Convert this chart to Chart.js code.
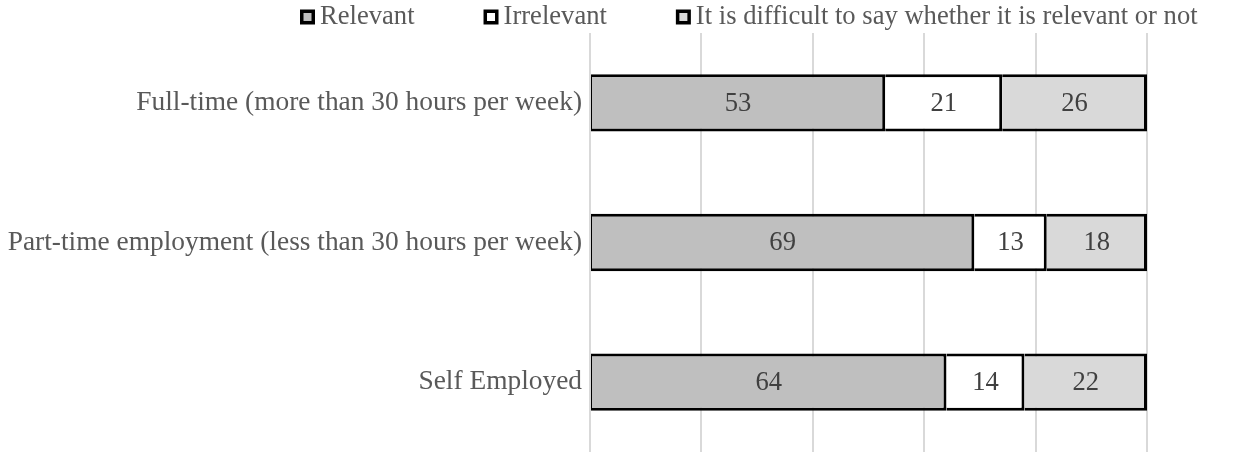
<!DOCTYPE html>
<html>
<head>
<meta charset="utf-8">
<script src="https://cdn.jsdelivr.net/npm/chart.js@4.4.1/dist/chart.umd.min.js"></script>
<style>
  html, body { margin: 0; padding: 0; background: #fff; }
  #wrap { width: 1255px; height: 452px; }
</style>
</head>
<body>
<div id="wrap"><canvas id="chart" width="1255" height="452"></canvas></div>
<script>
// data
const categories = [
    "Full-time (more than 30 hours per week)",
    "Part-time employment (less than 30 hours per week)",
    "Self Employed",
];
const relevant = [53, 69, 64];
const irrelevant = [21, 13, 14];
const difficult = [26, 18, 22];
const seriesNames = ["Relevant", "Irrelevant", "It is difficult to say whether it is relevant or not"];

const fontFamily = '"Liberation Serif", "Times New Roman", serif';
const textColor = "#595959";

// value labels in the middle of each segment
const segmentLabels = {
    id: "segmentLabels",
    afterDatasetsDraw(chart) {
        const ctx = chart.ctx;
        ctx.save();
        ctx.font = "26.6px " + fontFamily;
        ctx.fillStyle = "#404040";
        ctx.textAlign = "center";
        ctx.textBaseline = "middle";
        chart.data.datasets.forEach((ds, i) => {
            chart.getDatasetMeta(i).data.forEach((bar, j) => {
                let c = bar.getCenterPoint();
                ctx.fillText(ds.data[j], c.x, c.y + 1);
            });
        });
        ctx.restore();
    },
};

// excel style legend: square with thick black border, even gaps
const topLegend = {
    id: "topLegend",
    afterDraw(chart) {
        const ctx = chart.ctx;
        ctx.save();
        ctx.font = "26.6px " + fontFamily;
        ctx.textBaseline = "middle";
        let x = 300;
        let y = 17;
        let box = 15;
        chart.data.datasets.forEach((ds) => {
            ctx.fillStyle = "#000";
            ctx.fillRect(x, y - box / 2, box, box);
            ctx.fillStyle = ds.backgroundColor;
            ctx.fillRect(x + 3.5, y - box / 2 + 3.5, box - 7, box - 7);
            ctx.fillStyle = textColor;
            ctx.textAlign = "left";
            ctx.fillText(ds.label, x + box + 5, y);
            x += box + 5 + ctx.measureText(ds.label).width + 69;
        });
        ctx.restore();
    },
};

const chart = new Chart(document.getElementById("chart"), {
    type: "bar",
    data: {
        labels: categories,
        datasets: [
            {
                label: seriesNames[0],
                data: relevant,
                backgroundColor: "#BFBFBF",
                borderColor: "#000",
                borderWidth: { left: 1, top: 3, right: 3, bottom: 3 },
                borderSkipped: false,
            },
            {
                label: seriesNames[1],
                data: irrelevant,
                backgroundColor: "#FFFFFF",
                borderColor: "#000",
                borderWidth: 3,
            },
            {
                label: seriesNames[2],
                data: difficult,
                backgroundColor: "#D9D9D9",
                borderColor: "#000",
                borderWidth: 3,
            },
        ],
    },
    options: {
        indexAxis: "y",
        responsive: false,
        animation: false,
        devicePixelRatio: 1,
        layout: { padding: { top: 33, right: 108, bottom: 0, left: 0 } },
        datasets: { bar: { barPercentage: 0.41, categoryPercentage: 1 } },
        plugins: {
            legend: { display: false },
            tooltip: { enabled: false },
        },
        scales: {
            x: {
                stacked: true,
                min: 0,
                max: 100,
                ticks: { display: false, stepSize: 20 },
                grid: { color: "#D9D9D9", lineWidth: 2, drawTicks: false },
                border: { display: false },
                afterFit(scale) {
                    scale.height = 0;
                },
            },
            y: {
                stacked: true,
                grid: { display: false, drawTicks: false },
                border: { display: false },
                ticks: {
                    color: textColor,
                    font: { family: fontFamily, size: 27.4 },
                    padding: 8,
                },
                afterFit(scale) {
                    scale.width = 590;
                    // labels sit inside their bands, no need for extra room
                    scale.paddingTop = 0;
                    scale.paddingBottom = 0;
                },
            },
        },
    },
    plugins: [segmentLabels, topLegend],
});
</script>
</body>
</html>
